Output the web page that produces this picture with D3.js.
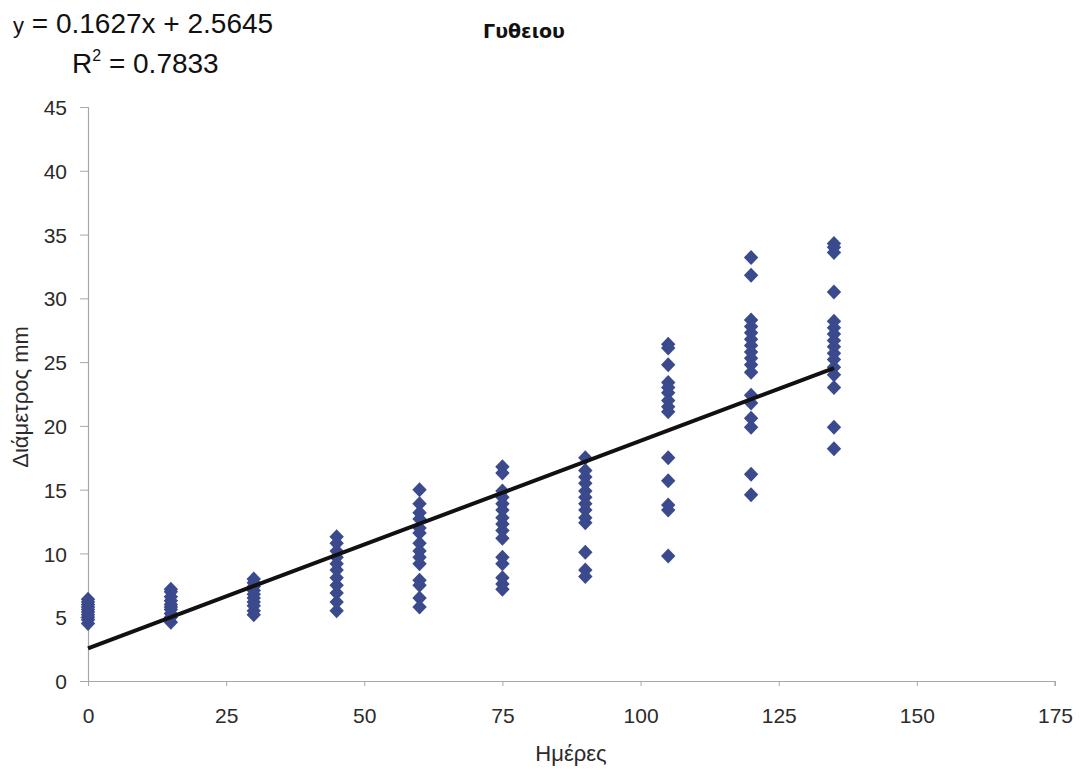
<!DOCTYPE html>
<html><head><meta charset="utf-8">
<script src="https://cdn.jsdelivr.net/npm/d3@7/dist/d3.min.js"></script>
<style>body{margin:0;background:#fff}svg{display:block}</style>
</head><body>
<svg id="c" width="1084" height="770"></svg>
<script>
const title = "Γυθειου";
const xLabel = "Ημέρες";
const yLabel = "Διάμετρος mm";
const xTicks = [0,25,50,75,100,125,150,175];
const yTicks = [0,5,10,15,20,25,30,35,40,45];
const slope = 0.1627, intercept = 2.5645, r2 = "0.7833";
const days = [0,15,30,45,60,75,90,105,120,135];
const d0 = [4.5,4.8,5.0,5.2,5.4,5.6,5.8,6.0,6.2,6.4];
const d15 = [4.6,5.0,5.3,5.6,5.8,6.0,6.3,6.6,7.0,7.2];
const d30 = [5.2,5.5,5.9,6.2,6.5,6.8,7.1,7.4,7.7,8.0];
const d45 = [5.5,6.2,6.9,7.5,8.1,8.7,9.2,9.7,10.2,10.8,11.3];
const d60 = [15.0,13.9,13.2,12.7,12.0,11.6,10.8,10.2,9.7,9.2,7.9,7.5,6.5,5.8];
const d75 = [16.8,16.3,14.9,14.4,13.9,13.4,12.8,12.3,11.8,11.2,9.7,9.2,8.1,7.6,7.2];
const d90 = [17.5,16.5,16.0,15.5,14.9,14.4,13.9,13.4,12.8,12.4,10.1,8.7,8.2];
const d105 = [26.4,26.1,24.8,23.4,23.0,22.6,22.0,21.5,21.1,17.5,15.7,13.8,13.4,9.8];
const d120 = [33.2,31.8,28.3,27.8,27.3,26.8,26.3,25.8,25.3,24.8,24.2,22.4,21.8,20.6,19.9,16.2,14.6];
const d135 = [34.3,34.0,33.6,30.5,28.2,27.7,27.2,26.7,26.2,25.7,25.2,24.6,24.0,23.0,19.9,18.2];
const groups = [d0,d15,d30,d45,d60,d75,d90,d105,d120,d135];

const svg = d3.select("#c");
const x = d3.scaleLinear().domain([0,175]).range([88,1055]);
const y = d3.scaleLinear().domain([0,45]).range([681,107]);
const font = "'Liberation Sans', Arial, sans-serif";

// axes
const gx = svg.append("g").attr("transform",`translate(0,${y(0)})`)
  .call(d3.axisBottom(x).tickValues(xTicks).tickSize(5));
gx.select(".domain").attr("d", `M${x(0)-8},0.5H${x(175)}V5`);
gx.selectAll(".tick text").attr("y",42).attr("dy",0);
const gy = svg.append("g").attr("transform",`translate(${x(0)},0)`)
  .call(d3.axisLeft(y).tickValues(yTicks).tickSize(8).tickPadding(13));
gy.select(".domain").attr("d", `M0.5,${y(45)}V${y(0)}`);
gy.selectAll(".tick text").attr("dy","0.36em");
[gx,gy].forEach(g=>{
  g.selectAll(".domain").attr("stroke","#a8a8a8").attr("stroke-width",1.2);
  g.selectAll(".tick line").attr("stroke","#a8a8a8");
  g.selectAll("text").attr("font-family",font).attr("font-size",21).attr("fill","#2b2b2b");
});

// points
const pts = [];
days.forEach((d,i)=>groups[i].forEach(v=>pts.push([d,v])));
const diamond = "M0,-7.5L7.2,0L0,7.5L-7.2,0Z";
svg.append("g").selectAll("path").data(pts).join("path")
  .attr("d",diamond).attr("transform",p=>`translate(${x(p[0])},${y(p[1])})`)
  .attr("fill","#3a4a8c");

// trendline
svg.append("line")
  .attr("x1",x(0)).attr("y1",y(intercept))
  .attr("x2",x(135)).attr("y2",y(intercept+slope*135))
  .attr("stroke","#111").attr("stroke-width",4);

// texts
svg.append("text").attr("x",524).attr("y",38).attr("text-anchor","middle")
  .attr("font-family","'DejaVu Sans', Verdana, sans-serif").attr("font-weight","bold")
  .attr("font-size",19).attr("fill","#111").text(title);
svg.append("text").attr("x",571).attr("y",761).attr("text-anchor","middle")
  .attr("font-family",font).attr("font-size",22).attr("fill","#2b2b2b").text(xLabel);
svg.append("text").attr("transform","translate(28,397) rotate(-90)").attr("text-anchor","middle")
  .attr("font-family",font).attr("font-size",22).attr("fill","#2b2b2b").text(yLabel);

const eq = svg.append("text").attr("x",13).attr("y",33).attr("font-family",font)
  .attr("font-size",28).attr("fill","#111");
eq.append("tspan").attr("font-size",22).text("y");
eq.append("tspan").text(` = ${slope}x + ${intercept}`);
const r = svg.append("text").attr("x",72).attr("y",73).attr("font-family",font).attr("font-size",28).attr("fill","#111");
r.append("tspan").text("R");
r.append("tspan").attr("font-size",16).attr("dy",-12).text("2");
r.append("tspan").attr("dy",12).text(` = ${r2}`);
</script>
</body></html>
